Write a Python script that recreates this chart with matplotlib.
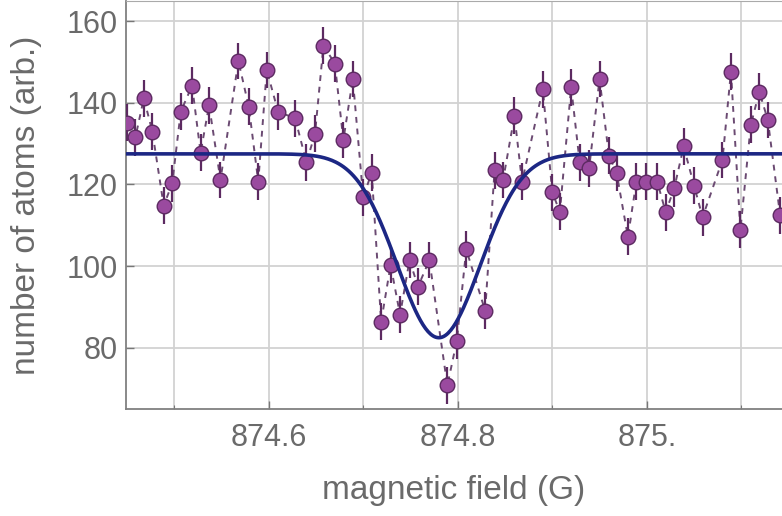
import numpy as np
import matplotlib
matplotlib.use("Agg")
import matplotlib.pyplot as plt

# ---------------------------------------------------------------
# Measured atom number vs. magnetic field (Feshbach loss scan)
# ---------------------------------------------------------------
field = [874.450, 874.459, 874.468, 874.477, 874.489, 874.498, 874.507, 874.519,
         874.528, 874.537, 874.549, 874.568, 874.579, 874.589, 874.598, 874.610,
         874.628, 874.640, 874.649, 874.658, 874.670, 874.679, 874.689, 874.700,
         874.709, 874.719, 874.729, 874.739, 874.749, 874.758, 874.770, 874.789,
         874.799, 874.809, 874.829, 874.839, 874.848, 874.860, 874.868, 874.890,
         874.900, 874.908, 874.920, 874.929, 874.939, 874.950, 874.960, 874.968,
         874.980, 874.989, 874.999, 875.011, 875.020, 875.029, 875.039, 875.050,
         875.059, 875.080, 875.089, 875.099, 875.110, 875.119, 875.128, 875.141]
atoms = [135.1, 131.5, 141.1, 132.9, 114.8, 120.3, 137.8, 144.2,
         127.8, 139.4, 121.1, 150.2, 139.0, 120.7, 148.0, 137.8,
         136.2, 125.4, 132.4, 154.0, 149.6, 130.9, 145.8, 116.9,
         122.9, 86.4, 100.3, 88.1, 101.5, 95.0, 101.5, 70.8,
         81.7, 104.1, 89.1, 123.5, 121.1, 136.8, 120.7, 143.3,
         118.1, 113.3, 143.8, 125.4, 124.0, 145.8, 127.0, 122.9,
         107.2, 120.7, 120.7, 120.7, 113.2, 119.1, 129.3, 119.7,
         112.0, 126.0, 147.6, 108.9, 134.6, 142.7, 135.8, 112.5]
atoms_err = 4.5

# Gaussian loss-feature fit parameters
fit_offset = 127.5
fit_depth = 45.0
fit_center = 874.780
fit_sigma = 0.0438

xticks = [874.6, 874.8, 875.0]
xtick_labels = ["874.6", "874.8", "875."]
yticks = [80, 100, 120, 140, 160]

plt.rcParams['font.family'] = ['Liberation Sans', 'DejaVu Sans']

fig = plt.figure(figsize=(7.82, 5.16), dpi=100)
ax = fig.add_axes([0.161, 0.207, 0.839, 0.791])

ax.plot(field, atoms, ls=(0, (3, 3)), lw=1.4, color='#6b4a72', zorder=2)
ax.errorbar(field, atoms, yerr=atoms_err, fmt='o', ms=10.5,
            mfc='#9a4a9f', mec='#5c2a61', mew=1.0,
            ecolor='#5c2a61', elinewidth=1.6, capsize=0, zorder=3)

xf = np.linspace(874.40, 875.20, 600)
yf = fit_offset - fit_depth * np.exp(-(xf - fit_center) ** 2 / (2 * fit_sigma ** 2))
ax.plot(xf, yf, color='#1c2784', lw=2.6, zorder=4)

ax.set_xlim(874.449, 875.143)
ax.set_ylim(65.0, 164.9)

ax.set_xticks(xticks)
ax.set_xticklabels(xtick_labels)
ax.set_yticks(yticks)
ax.set_xticks(np.arange(874.5, 875.15, 0.1), minor=True)

ax.grid(True, which='both', color='#d2d2d2', lw=1.3)
ax.set_axisbelow(True)

ax.tick_params(axis='x', which='major', pad=10)
ax.tick_params(axis='y', which='major', pad=6)
ax.tick_params(axis='both', which='major', direction='in', length=6,
               width=1.0, color='#777777', labelcolor='#6a6a6a',
               labelsize=22)
ax.tick_params(axis='both', which='minor', direction='in', length=3,
               width=0.8, color='#777777')

for side in ['left', 'bottom']:
    ax.spines[side].set_color('#808080')
    ax.spines[side].set_linewidth(1.3)
ax.spines['top'].set_color('#aaaaaa')
ax.spines['right'].set_visible(False)

ax.set_xlabel("magnetic field (G)", fontsize=24, color='#6a6a6a', va='center')
ax.set_ylabel("number of atoms (arb.)", fontsize=24, color='#6a6a6a', va='center')
ax.xaxis.set_label_coords(0.5, -0.199)
ax.yaxis.set_label_coords(-0.151, 0.5)

fig.savefig("out.png", dpi=100)
